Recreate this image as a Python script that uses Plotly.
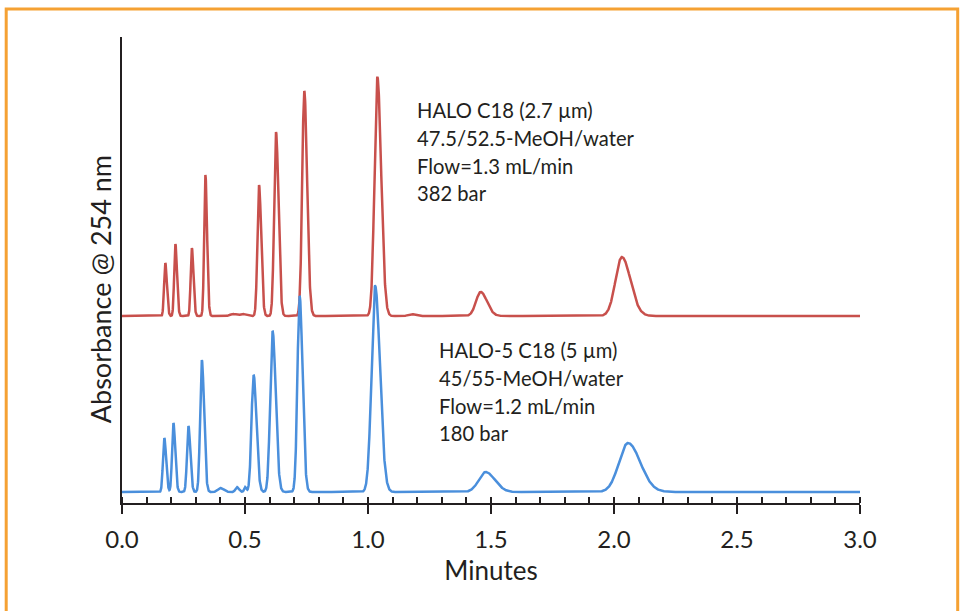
import numpy as np
import plotly.graph_objects as go

# ---- Data (time in min, height & width in arbitrary units) ----
red_times   = [0.176, 0.217, 0.284, 0.339, 0.557, 0.626, 0.741, 1.038, 1.458, 2.032, 0.45, 0.49, 1.175]
red_heights = [53, 72, 68, 141, 131, 184, 225, 239, 24, 59, 2, 2, 2]
red_sigmas  = [0.0048, 0.0048, 0.0048, 0.005, 0.0065, 0.0075, 0.0085, 0.0115, 0.019, 0.026, 0.01, 0.01, 0.012]
red_offset  = 187

blue_times   = [0.172, 0.209, 0.270, 0.3245, 0.535, 0.612, 0.722, 1.029, 1.478, 2.057, 0.40, 0.467, 0.50]
blue_heights = [54, 69, 66, 132, 117, 161, 196, 206, 20, 49, 4, 5, 5]
blue_sigmas  = [0.0055, 0.0055, 0.0058, 0.0068, 0.0085, 0.0095, 0.0088, 0.0145, 0.028, 0.037, 0.01, 0.006, 0.004]
blue_offset  = 11

x_tick_vals = [0.0, 0.5, 1.0, 1.5, 2.0, 2.5, 3.0]
x_tick_text = ["0.0", "0.5", "1.0", "1.5", "2.0", "2.5", "3.0"]

red_label  = ["HALO C18 (2.7 µm)", "47.5/52.5-MeOH/water", "Flow=1.3 mL/min", "382 bar"]
blue_label = ["HALO-5 C18 (5 µm)", "45/55-MeOH/water", "Flow=1.2 mL/min", "180 bar"]
y_title = "Absorbance @ 254 nm"
x_title = "Minutes"

TAIL = 1.35  # right-side width factor (peak tailing)
t = np.linspace(0, 3.0, 6001)

def trace_from_peaks(times, heights, sigmas, offset):
    y = np.full_like(t, float(offset))
    for tr, h, s in zip(times, heights, sigmas):
        sig = np.where(t < tr, s, s * TAIL)
        y += h * np.exp(-0.5 * ((t - tr) / sig) ** 2)
    return y

y_red = trace_from_peaks(red_times, red_heights, red_sigmas, red_offset)
y_blue = trace_from_peaks(blue_times, blue_heights, blue_sigmas, blue_offset)

FONT = "Lato"
INK = "#231F20"

fig = go.Figure()
fig.add_trace(go.Scatter(x=t, y=y_red, mode="lines", line=dict(color="#C8504C", width=2.5),
                         showlegend=False, hoverinfo="skip"))
fig.add_trace(go.Scatter(x=t, y=y_blue, mode="lines", line=dict(color="#4A8FDC", width=2.5),
                         showlegend=False, hoverinfo="skip"))

W, H = 964, 611
L, T = 122.3, 37
R = W - 860.3
B = H - 503
pw, ph = W - L - R, H - T - B

fig.update_layout(
    width=W, height=H,
    margin=dict(l=L, r=R, t=T, b=B, autoexpand=False),
    paper_bgcolor="white", plot_bgcolor="white",
    font=dict(family=FONT, color=INK),
    xaxis=dict(
        range=[0, 3.0], showgrid=False, zeroline=False,
        showline=True, linecolor=INK, linewidth=2,
        ticks="outside", ticklen=9, tickwidth=2, tickcolor=INK,
        tickvals=x_tick_vals, ticktext=x_tick_text,
        tickfont=dict(size=24, family=FONT, color=INK),
        ticklabelstandoff=5,
        minor=dict(ticks="inside", dtick=0.1, ticklen=6, tickwidth=1.5, tickcolor=INK),
        title=dict(text=x_title, font=dict(size=26, family=FONT, color=INK), standoff=10),
    ),
    yaxis=dict(
        range=[0, ph], showgrid=False, zeroline=False,
        showline=True, linecolor=INK, linewidth=2,
        ticks="", showticklabels=False,
    ),
)

def px_to_xpaper(px):
    return (px - L) / pw

def px_to_ypaper(py):
    return (H - B - py) / ph

# y-axis title (placed as rotated text to match its offset position)
fig.add_annotation(x=px_to_xpaper(101), y=px_to_ypaper(289.5), xref="paper", yref="paper",
                   text=y_title, showarrow=False, textangle=-90, xanchor="center", yanchor="middle",
                   font=dict(size=27, family=FONT, color=INK))

for i, line in enumerate(red_label):
    fig.add_annotation(x=px_to_xpaper(415), y=px_to_ypaper(110 + 27.8 * i), xref="paper", yref="paper",
                       text=line, showarrow=False, xanchor="left", yanchor="middle",
                       font=dict(size=20.2, family=FONT, color=INK))
for i, line in enumerate(blue_label):
    fig.add_annotation(x=px_to_xpaper(437), y=px_to_ypaper(350 + 27.8 * i), xref="paper", yref="paper",
                       text=line, showarrow=False, xanchor="left", yanchor="middle",
                       font=dict(size=20.2, family=FONT, color=INK))

# orange frame around the figure
fig.add_shape(type="rect", xref="paper", yref="paper",
              x0=px_to_xpaper(6.5), x1=px_to_xpaper(958), y0=px_to_ypaper(625), y1=px_to_ypaper(9),
              line=dict(color="#F5A133", width=3), fillcolor="rgba(0,0,0,0)", layer="below")

fig.write_html("out.html", config={"displayModeBar": False},
               post_script="document.body.style.margin='0';document.body.style.overflow='hidden';")
